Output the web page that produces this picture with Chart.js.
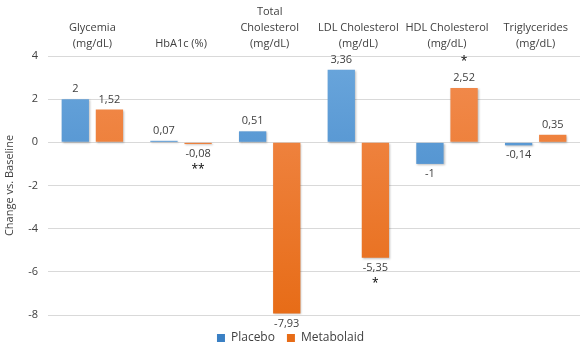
<!DOCTYPE html>
<html>
<head>
<meta charset="utf-8">
<script src="https://cdn.jsdelivr.net/npm/chart.js@4/dist/chart.umd.min.js"></script>
<style>
  html, body { margin: 0; padding: 0; background: #fff; }
  #frame { width: 588px; height: 350px; overflow: hidden; }
  #wrap { width: 588px; height: 354px; }
</style>
</head>
<body>
<div id="frame"><div id="wrap"><canvas id="myChart"></canvas></div></div>
<script>
const categories = [
  ["Glycemia", "(mg/dL)"],
  ["HbA1c (%)"],
  ["Total", "Cholesterol", "(mg/dL)"],
  ["LDL Cholesterol", "(mg/dL)"],
  ["HDL Cholesterol", "(mg/dL)"],
  ["Triglycerides", "(mg/dL)"]
];
const placebo = [2, 0.07, 0.51, 3.36, -1, -0.14];
const metabolaid = [1.52, -0.08, -7.93, -5.35, 2.52, 0.35];
const metabolaidMarks = ["", "**", "", "*", "*", ""];
const yTicks = [4, 2, 0, -2, -4, -6, -8];

Chart.defaults.font.family = "'Open Sans', sans-serif";
Chart.defaults.color = "#595959";

function grad(ctx, top, bottom) {
  const chart = ctx.chart;
  const area = chart.chartArea;
  if (!area) return top;
  const g = chart.ctx.createLinearGradient(0, area.top, 0, area.bottom);
  g.addColorStop(0, top);
  g.addColorStop(1, bottom);
  return g;
}

const valueLabels = {
  id: "valueLabels",
  afterDatasetsDraw(chart) {
    const c = chart.ctx;
    c.save();
    c.textAlign = "center";
    c.textBaseline = "middle";
    chart.data.datasets.forEach((ds, di) => {
      const meta = chart.getDatasetMeta(di);
      meta.data.forEach((bar, i) => {
        const v = ds.data[i];
        const txt = String(v).replace(".", ",");
        const dir = v >= 0 ? -1 : 1;
        const y = bar.y + dir * 10;
        c.font = "11px 'Open Sans', sans-serif";
        c.fillStyle = "#404040";
        c.fillText(txt, bar.x, y);
        const mark = ds.marks ? ds.marks[i] : "";
        if (mark) {
          c.font = "12px 'Open Sans', sans-serif";
          c.fillStyle = "#000";
          c.fillText(mark, bar.x, y + dir * 16);
        }
      });
    });
    c.restore();
  }
};

const barShadow = {
  id: "barShadow",
  beforeDatasetsDraw(chart) {
    const c = chart.ctx;
    c.save();
    c.shadowColor = "rgba(0,0,0,0.25)";
    c.shadowBlur = 2;
    c.shadowOffsetX = 1;
    c.shadowOffsetY = 1;
  },
  afterDatasetsDraw(chart) {
    chart.ctx.restore();
  }
};

const ctx = document.getElementById("myChart");
new Chart(ctx, {
  type: "bar",
  data: {
    labels: categories,
    datasets: [
      {
        label: "Placebo",
        data: placebo,
        backgroundColor: (c) => grad(c, "#6aa6dc", "#3a80c4"),
        categoryPercentage: 0.77,
        barPercentage: 0.8
      },
      {
        label: "Metabolaid",
        data: metabolaid,
        marks: metabolaidMarks,
        backgroundColor: (c) => grad(c, "#f28c50", "#e76c17"),
        categoryPercentage: 0.77,
        barPercentage: 0.8
      }
    ]
  },
  options: {
    responsive: true,
    maintainAspectRatio: false,
    animation: false,
    layout: { padding: { left: 1, right: 8, top: 0, bottom: 0 } },
    plugins: {
      legend: {
        position: "bottom",
        labels: {
          boxWidth: 8,
          boxHeight: 8,
          padding: 12,
          color: "#404040",
          font: { size: 12 }
        }
      },
      tooltip: { enabled: false }
    },
    scales: {
      x: {
        position: "top",
        grid: { display: false, drawTicks: false },
        border: { display: false },
        ticks: { color: "#404040", font: { size: 11, lineHeight: "16px" }, padding: 4, maxRotation: 0 }
      },
      // empty spacer below the plot, keeps the legend low like the original
      x2: {
        type: "category",
        position: "bottom",
        grid: { display: false, drawTicks: false },
        border: { display: false },
        ticks: { display: false },
        afterFit: (axis) => { axis.height = 5; }
      },
      y: {
        min: -8,
        max: 4,
        afterBuildTicks: (axis) => { axis.ticks = yTicks.map((v) => ({ value: v })); },
        grid: { color: "#d9d9d9", drawTicks: false },
        border: { display: false },
        ticks: { color: "#404040", font: { size: 11 }, padding: 10 },
        title: {
          display: true,
          text: "Change vs. Baseline",
          color: "#404040",
          font: { size: 11 },
          padding: 2
        }
      }
    }
  },
  plugins: [barShadow, valueLabels]
});
</script>
</body>
</html>
